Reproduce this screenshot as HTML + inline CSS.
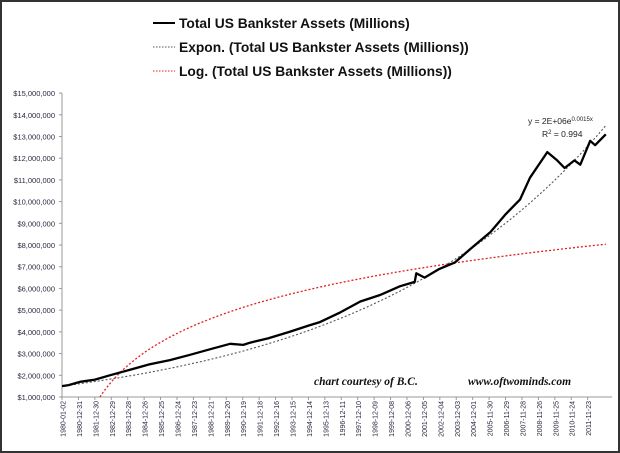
<!DOCTYPE html>
<html><head><meta charset="utf-8"><style>
html,body{margin:0;padding:0;background:#fff}
#wrap{position:relative;width:620px;height:453px;overflow:hidden}
svg text{font-family:"Liberation Sans",sans-serif}
</style></head><body>
<div id="wrap">
<svg id="chart" width="620" height="453"></svg>
</div>
<script>
const years=[1980.0,1980.4,1981.1,1982.0,1982.9,1984.1,1985.3,1986.55,1987.8,1989.0,1990.2,1991.0,1991.4,1992.5,1993.8,1995.0,1995.65,1996.9,1998.1,1999.3,2000.5,2001.4,2001.5,2002.0,2002.9,2003.85,2004.75,2006.0,2006.9,2007.8,2008.4,2009.45,2010.05,2010.5,2011.1,2011.45,2012.05,2012.35,2013.0];
const values=[1.5,1.55,1.7,1.8,2.0,2.25,2.5,2.7,2.95,3.2,3.45,3.4,3.5,3.7,4.0,4.3,4.45,4.9,5.4,5.7,6.1,6.3,6.7,6.5,6.9,7.2,7.8,8.6,9.4,10.1,11.1,12.28,11.9,11.55,11.9,11.7,12.8,12.6,13.1];
const yTicks=[1,2,3,4,5,6,7,8,9,10,11,12,13,14,15];
const xLabels=["1980-01-02","1980-12-31","1981-12-30","1982-12-29","1983-12-28","1984-12-26","1985-12-25","1986-12-24","1987-12-23","1988-12-21","1989-12-20","1990-12-19","1991-12-18","1992-12-16","1993-12-15","1994-12-14","1995-12-13","1996-12-11","1997-12-10","1998-12-09","1999-12-08","2000-12-06","2001-12-05","2002-12-04","2003-12-03","2004-12-01","2005-11-30","2006-11-29","2007-11-28","2008-11-26","2009-11-25","2010-11-24","2011-11-23"];
const expA=1.5, expB=0.0666;
const logC=-11.7, logD=2.65;

const NS="http://www.w3.org/2000/svg";
const svg=document.getElementById('chart');
const X=t=>62+(t-1980)*16.48;
const Y=v=>397-(v-1)*21.71;
function mk(tag,attrs){const e=document.createElementNS(NS,tag);for(const k in attrs)e.setAttribute(k,attrs[k]);svg.appendChild(e);return e;}

let f=mk('rect',{x:1,y:1,width:618,height:451,fill:'none',stroke:'#333','stroke-width':2});



let ya=mk('line',{x1:62,y1:Y(15),x2:62,y2:Y(1),stroke:'#999','stroke-width':1});


let xa=mk('line',{x1:62,y1:Y(1),x2:612,y2:Y(1),stroke:'#999','stroke-width':1});



yTicks.forEach(v=>{
  let t=mk('line',{x1:59,y1:Y(v),x2:62,y2:Y(v),stroke:'#999'});
  
  
  let l=mk('text',{x:55,y:Y(v)+3,'text-anchor':'end','font-size':7.5,fill:'#2a2a40'});
  l.textContent='$'+(v*1000000).toLocaleString('en-US');
  
  
});
xLabels.forEach((s,i)=>{
  const x=X(1980+i*0.9968)+1;
  let t=mk('line',{x1:x-1,y1:Y(1),x2:x-1,y2:Y(1)+3,stroke:'#999'});
  
  
  let l=mk('text',{x:0,y:0,'text-anchor':'end','font-size':7,fill:'#2a2a40',transform:`translate(${x+2.5},401) rotate(-90)`});
  l.textContent=s;
  
  
});

let lp=[];
for(let t=1980;t<=2013.001;t+=0.1){const n=(t-1980)*52+1;const v=logC+logD*Math.log(n);if(v>=1)lp.push(X(t).toFixed(1)+','+Y(v).toFixed(1));}
let lg=mk('polyline',{points:lp.join(' '),fill:'none',stroke:'#e02020','stroke-width':1.3,'stroke-dasharray':'2,2'});



let ep=[];
for(let t=1980;t<=2013.001;t+=0.25){ep.push(X(t).toFixed(1)+','+Y(expA*Math.exp(expB*(t-1980))).toFixed(1));}
let ex=mk('polyline',{points:ep.join(' '),fill:'none',stroke:'#555','stroke-width':1.1,'stroke-dasharray':'2,2'});



let mp=years.map((t,i)=>X(t).toFixed(1)+','+Y(values[i]).toFixed(1)).join(' ');
let ml=mk('polyline',{points:mp,fill:'none',stroke:'#000','stroke-width':2.3,'stroke-linejoin':'round'});



let eq=mk('text',{x:528,y:124,'font-size':8.5,fill:'#222'});
eq.innerHTML='y = 2E+06e<tspan font-size="6" dy="-3">0.0015x</tspan>';


let r2=mk('text',{x:542,y:137,'font-size':8.5,fill:'#222'});
r2.innerHTML='R<tspan font-size="6" dy="-3">2</tspan><tspan dy="3"> = 0.994</tspan>';



let c1=mk('text',{x:314,y:385,'font-size':11.5,'font-style':'italic','font-weight':'bold',fill:'#111'});
c1.style.fontFamily='"Liberation Serif",serif';
c1.textContent='chart courtesy of B.C.';


let c2=mk('text',{x:468,y:385,'font-size':11.5,'font-style':'italic','font-weight':'bold',fill:'#111'});
c2.style.fontFamily='"Liberation Serif",serif';
c2.textContent='www.oftwominds.com';



const leg=[['Total US Bankster Assets (Millions)','#000',null,2,23],['Expon. (Total US Bankster Assets (Millions))','#555','1.5,1.5',1,47],['Log. (Total US Bankster Assets (Millions))','#e02020','1.5,1.5',1,71]];
leg.forEach(d=>{
  let s=mk('line',{x1:153,y1:d[4],x2:175,y2:d[4],stroke:d[1],'stroke-width':d[3]});
  if(d[2])s.setAttribute('stroke-dasharray',d[2]);
  
  
  let t=mk('text',{x:179,y:d[4]+5,'font-size':13.8,'font-weight':'bold',fill:'#111'});
  t.textContent=d[0];
  
  
});
</script>
</body></html>
